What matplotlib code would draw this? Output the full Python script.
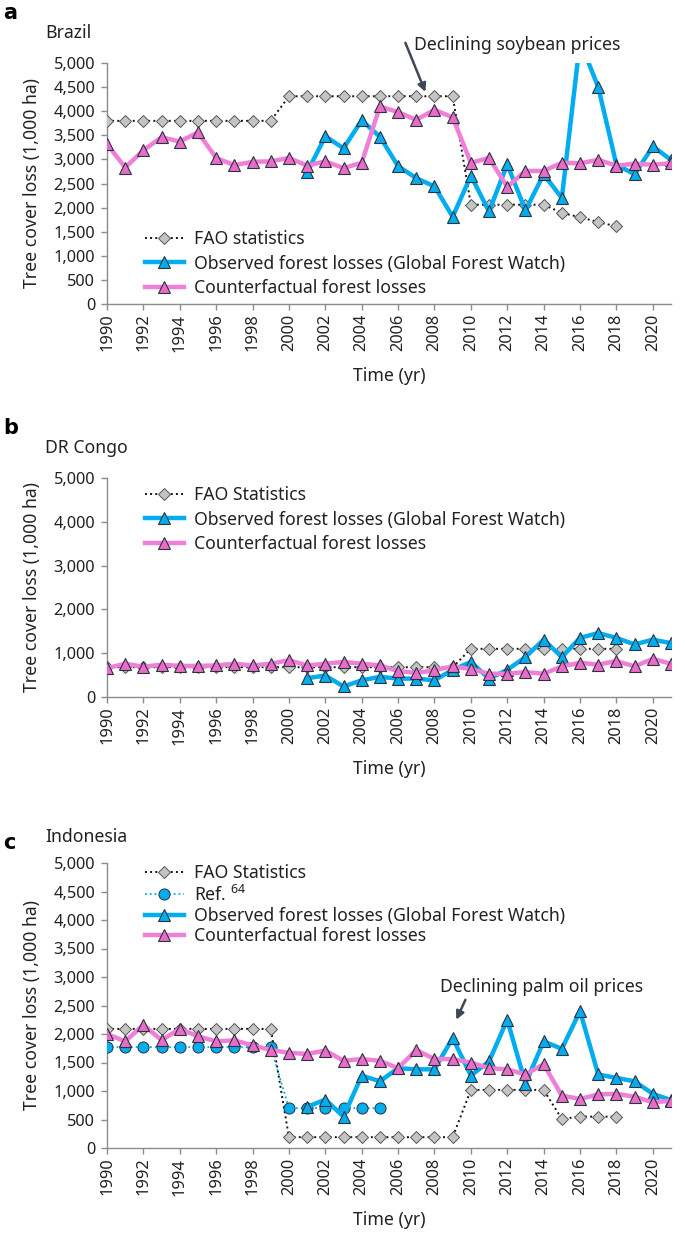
import numpy as np
import matplotlib
matplotlib.use('Agg')
import matplotlib.pyplot as plt
from matplotlib.ticker import FuncFormatter, MultipleLocator

plt.rcParams['font.family'] = ['Noto Sans', 'DejaVu Sans']
plt.rcParams['mathtext.fontset'] = 'custom'
plt.rcParams['mathtext.rm'] = 'Noto Sans'

# ---- data (1,000 ha) ----
years = list(range(1990, 2022))
years_fao = list(range(1990, 2019))
years_obs = list(range(2001, 2022))

# Brazil
br_fao = [3800] * 10 + [4310] * 10 + [2060, 2060, 2060, 2060, 2060, 1890, 1800, 1700, 1610]
br_obs = [2730, 3480, 3230, 3810, 3470, 2860, 2610, 2440, 1810, 2660, 1920,
          2900, 1940, 2690, 2200, 5450, 4500, 2890, 2690, 3270, 2990]
br_cf = [3320, 2830, 3190, 3460, 3370, 3560, 3030, 2880, 2950, 2960, 3030,
         2870, 2960, 2820, 2930, 4100, 3980, 3820, 4030, 3870, 2930, 3030,
         2430, 2760, 2760, 2930, 2920, 2990, 2870, 2910, 2890, 2920]

# DR Congo
cd_fao = [680] * 20 + [1100] * 9
cd_obs = [430, 490, 240, 380, 460, 420, 420, 380, 620, 800, 420,
          620, 910, 1310, 910, 1350, 1460, 1350, 1200, 1310, 1230]
cd_cf = [660, 760, 690, 740, 710, 710, 720, 760, 720, 760, 840,
         720, 760, 800, 760, 720, 590, 550, 610, 700, 640, 530,
         530, 570, 530, 700, 780, 740, 820, 700, 870, 760]

# Indonesia
id_fao = [2090] * 10 + [190] * 10 + [1020] * 5 + [510, 550, 550, 550]
years_ref = list(range(1990, 2006))
id_ref = [1770] * 10 + [700] * 6
id_obs = [720, 850, 550, 1270, 1170, 1400, 1380, 1380, 1930, 1270, 1520,
          2250, 1130, 1870, 1740, 2400, 1290, 1230, 1170, 950, 840]
id_cf = [2000, 1870, 2160, 1890, 2090, 1960, 1870, 1890, 1800, 1720, 1670,
         1650, 1710, 1530, 1560, 1530, 1400, 1720, 1560, 1560, 1500, 1400,
         1380, 1290, 1470, 920, 860, 940, 950, 900, 800, 830]

BLUE = '#00aeef'
PINK = '#f07fd8'
PINK_M = '#e86cc8'
GREY_M = '#c4c4c4'
EDGE = '#2b3340'
SPINE = '#8c8c8c'
TXT = '#222222'
ARROW = '#3d4757'
FS = 12.7

fig = plt.figure(figsize=(6.85, 12.33), dpi=100)
H = 1233.0
W = 685.0


def make_ax(top, bottom):
    return fig.add_axes([107 / W, 1 - bottom / H, 564 / W, (bottom - top) / H])


def style(ax, ystep):
    ax.set_xlim(1990, 2021)
    ax.set_ylim(0, 5000)
    ax.yaxis.set_major_locator(MultipleLocator(ystep))
    ax.yaxis.set_major_formatter(FuncFormatter(lambda v, p: '{:,.0f}'.format(v)))
    ax.set_xticks(range(1990, 2021, 2))
    ax.tick_params(axis='x', rotation=90)
    for s in ['top', 'right']:
        ax.spines[s].set_visible(False)
    for s in ['left', 'bottom']:
        ax.spines[s].set_color(SPINE)
        ax.spines[s].set_linewidth(1.0)
    ax.tick_params(colors=SPINE, labelcolor=TXT, labelsize=11.8, length=4.5, width=1)
    ax.tick_params(axis='y', pad=4)
    ax.tick_params(axis='x', pad=2.5)
    ax.set_ylabel('Tree cover loss (1,000 ha)', fontsize=FS, color=TXT, labelpad=9)
    ax.set_xlabel('Time (yr)', fontsize=FS, color=TXT, labelpad=11)


def plot_fao(ax, x, y, label):
    ax.plot(x, y, ls=':', color='#111111', lw=1.4, marker='D', ms=6,
            mfc=GREY_M, mec='#555555', mew=0.7, label=label, zorder=3)


def plot_obs(ax, x, y):
    ax.plot(x, y, color=BLUE, lw=3.2, marker='^', ms=8, mfc=BLUE, mec=EDGE,
            mew=0.8, label='Observed forest losses (Global Forest Watch)', zorder=4)


def plot_cf(ax, x, y):
    ax.plot(x, y, color=PINK, lw=3.2, marker='^', ms=8, mfc=PINK_M, mec=EDGE,
            mew=0.8, label='Counterfactual forest losses', zorder=5)


def legend(ax, loc, spacing):
    ax.legend(loc='upper left', bbox_to_anchor=loc, frameon=False, fontsize=FS,
              handlelength=2.2, handletextpad=0.6, labelspacing=spacing,
              borderaxespad=0, labelcolor=TXT)


def arrow(ax, tail, head):
    ax.annotate('', xy=head, xytext=tail,
                arrowprops=dict(arrowstyle='-|>', color=ARROW, lw=1.8,
                                mutation_scale=12, shrinkA=0, shrinkB=0),
                annotation_clip=False)


# ---- panel a ----
ax1 = make_ax(63, 304)
plot_fao(ax1, years_fao, br_fao, 'FAO statistics')
plot_obs(ax1, years_obs, br_obs)
plot_cf(ax1, years, br_cf)
style(ax1, 500)
legend(ax1, (0.055, 0.335), 0.36)
ax1.text(2006.9, 5380, 'Declining soybean prices', fontsize=FS, color=TXT,
         ha='left', va='center', clip_on=False)
arrow(ax1, (2006.4, 5420), (2007.5, 4400))

# ---- panel b ----
ax2 = make_ax(478, 697)
plot_fao(ax2, years_fao, cd_fao, 'FAO Statistics')
plot_obs(ax2, years_obs, cd_obs)
plot_cf(ax2, years, cd_cf)
style(ax2, 1000)
legend(ax2, (0.055, 0.995), 0.36)

# ---- panel c ----
ax3 = make_ax(863, 1148)
plot_fao(ax3, years_fao, id_fao, 'FAO Statistics')
ax3.plot(years_ref, id_ref, ls=':', color=BLUE, lw=1.3, marker='o', ms=8,
         mfc=BLUE, mec=EDGE, mew=0.7, label=r'Ref. $^{\mathregular{64}}$', zorder=3)
plot_obs(ax3, years_obs, id_obs)
plot_cf(ax3, years, id_cf)
style(ax3, 500)
legend(ax3, (0.055, 1.02), 0.12)
ax3.text(2013.9, 2830, 'Declining palm oil prices', fontsize=FS, color=TXT,
         ha='center', va='center')
arrow(ax3, (2009.7, 2600), (2009.2, 2250))

# panel letters and country names
for lab, name, ylab, yname in [('a', 'Brazil', 13, 33), ('b', 'DR Congo', 428, 448),
                               ('c', 'Indonesia', 843, 837)]:
    fig.text(3 / W, 1 - ylab / H, lab, fontsize=15, fontweight='bold', va='center',
             color='black', family='DejaVu Sans')
    fig.text(45 / W, 1 - yname / H, name, fontsize=FS, va='center', color=TXT)

plt.savefig('out.png', dpi=100)
